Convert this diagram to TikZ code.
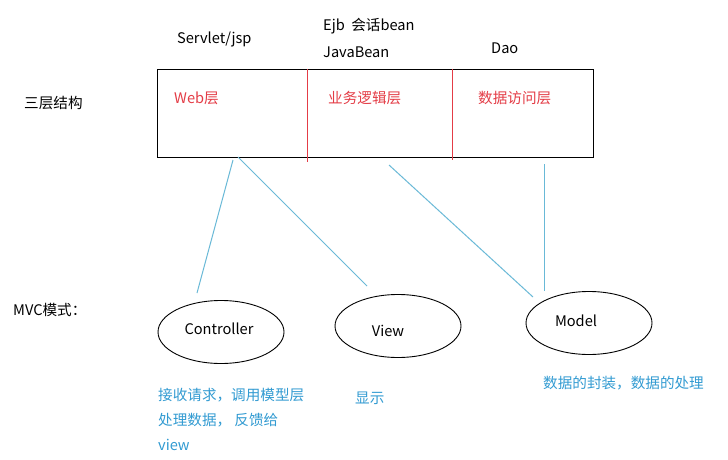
\documentclass[tikz,border=0pt]{standalone}
\usepackage{fontspec}
\setmainfont{Noto Sans CJK SC}
\usetikzlibrary{shapes.geometric}
\definecolor{tierred}{RGB}{228,60,70}
\definecolor{noteblue}{RGB}{50,155,210}
\definecolor{linkblue}{RGB}{105,185,215}
\tikzset{
  lbl/.style={anchor=west, inner sep=0pt, font=\fontsize{14.6}{17}\selectfont},
  redlbl/.style={lbl, text=tierred},
  bluelbl/.style={lbl, text=noteblue},
  mvc/.style={ellipse, draw=black, line width=0.9pt, minimum width=126pt, minimum height=63pt, inner sep=0pt},
  link/.style={draw=linkblue, line width=1pt},
  divider/.style={draw=tierred, line width=0.9pt}
}
\begin{document}
\begin{tikzpicture}[x=1pt,y=-1pt]
\useasboundingbox[fill=white] (0,0) rectangle (728,460);
% tier box
\node[draw=black, line width=0.9pt, minimum width=436pt, minimum height=88pt, inner sep=0pt] (tier) at (375,113) {};
\coordinate (d1t) at (307,69); \coordinate (d1b) at (307,162);
\coordinate (d2t) at (452,69); \coordinate (d2b) at (452,160);
\draw[divider] (d1t) -- (d1b);
\draw[divider] (d2t) -- (d2b);
% labels above
\node[lbl] (servlet) at (177,39) {Servlet/jsp};
\node[lbl] (ejb) at (323,26) {Ejb\ \ 会话bean};
\node[lbl] (javabean) at (323,52) {JavaBean};
\node[lbl] (dao) at (491,48) {Dao};
\node[lbl] (three) at (24,103) {三层结构};
% red tier labels
\node[redlbl] (web) at (174,98) {Web层};
\node[redlbl] (biz) at (328,98) {业务逻辑层};
\node[redlbl] (data) at (478,98) {数据访问层};
% MVC
\node[lbl] (mvclbl) at (13,310) {MVC模式：};
\node[mvc] (ctrl) at (221,332) {};
\node[mvc] (view) at (398,326) {};
\node[mvc] (model) at (589,323) {};
\node[lbl, anchor=center] (ctrlt) at (219,329) {Controller};
\node[lbl, anchor=center] (viewt) at (388,331) {View};
\node[lbl, anchor=center] (modelt) at (576,321) {Model};
% links
\coordinate (a1) at (233,160); \coordinate (b1) at (197,293);
\coordinate (a2) at (238,157); \coordinate (b2) at (367,286);
\coordinate (a3) at (389,165); \coordinate (b3) at (533,297);
\coordinate (a4) at (544,164); \coordinate (b4) at (544,291);
\draw[link] (a1) -- (b1);
\draw[link] (a2) -- (b2);
\draw[link] (a3) -- (b3);
\draw[link] (a4) -- (b4);
% notes
\node[bluelbl] (n1) at (158,395) {接收请求，调用模型层};
\node[bluelbl] (n2) at (158,420) {处理数据， 反馈给};
\node[bluelbl] (n3) at (158,445) {view};
\node[bluelbl] (n4) at (355,398) {显示};
\node[bluelbl] (n5) at (543,383) {数据的封装，数据的处理};
\end{tikzpicture}
\end{document}
